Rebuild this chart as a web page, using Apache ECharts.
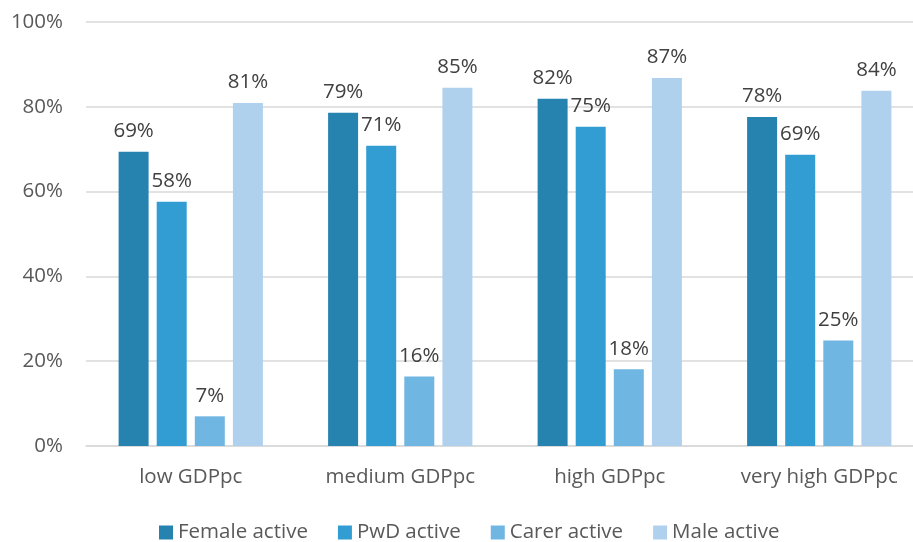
<!DOCTYPE html>
<html>
<head>
<meta charset="utf-8">
<script src="https://cdn.jsdelivr.net/npm/echarts@6/dist/echarts.min.js"></script>
<style>
  html, body { margin: 0; padding: 0; background: #fff; }
  #chart { width: 913px; height: 542px; }
</style>
</head>
<body>
<div id="chart"></div>
<script>
const categories = ['low GDPpc', 'medium GDPpc', 'high GDPpc', 'very high GDPpc'];
const femaleActive = [69.4, 78.6, 81.9, 77.6];
const pwdActive = [57.6, 70.8, 75.3, 68.7];
const carerActive = [7.0, 16.4, 18.1, 24.9];
const maleActive = [80.9, 84.5, 86.8, 83.8];
const yTicks = [0, 20, 40, 60, 80, 100];

const colors = ['#2683b0', '#329dd3', '#6fb6e2', '#afd1ee'];
const font = '"Open Sans", sans-serif';
const fs = 20.5;

function barSeries(name, data, color) {
  return {
    name: name,
    type: 'bar',
    data: data,
    barWidth: 30,
    barGap: '27%',
    itemStyle: { color: color },
    label: {
      show: true,
      position: 'top',
      distance: 10,
      color: '#404040',
      fontFamily: font,
      fontSize: fs,
      formatter: p => Math.round(p.value) + '%'
    }
  };
}

const chart = echarts.init(document.getElementById('chart'));
chart.setOption({
  backgroundColor: '#fff',
  animation: false,
  color: colors,
  grid: { left: 86, width: 838, top: 22, bottom: 96, containLabel: false, outerBoundsMode: 'none' },
  legend: {
    top: 517,
    left: 154,
    itemWidth: 14,
    itemHeight: 14,
    itemGap: 30,
    icon: 'rect',
    textStyle: { color: '#595959', fontFamily: font, fontSize: fs }
  },
  xAxis: {
    type: 'category',
    data: categories,
    axisLine: { lineStyle: { color: '#d9d9d9', width: 1.5 } },
    axisTick: { show: false },
    axisLabel: { color: '#595959', fontFamily: font, fontSize: fs, margin: 21 }
  },
  yAxis: {
    type: 'value',
    min: yTicks[0],
    max: yTicks[yTicks.length - 1],
    interval: 20,
    axisLine: { show: false },
    axisTick: { show: false },
    splitLine: { lineStyle: { color: '#d9d9d9', width: 1.5 } },
    axisLabel: { color: '#595959', fontFamily: font, fontSize: fs, margin: 23, formatter: '{value}%' }
  },
  series: [
    barSeries('Female active', femaleActive, colors[0]),
    barSeries('PwD active', pwdActive, colors[1]),
    barSeries('Carer active', carerActive, colors[2]),
    barSeries('Male active', maleActive, colors[3])
  ]
});
</script>
</body>
</html>
